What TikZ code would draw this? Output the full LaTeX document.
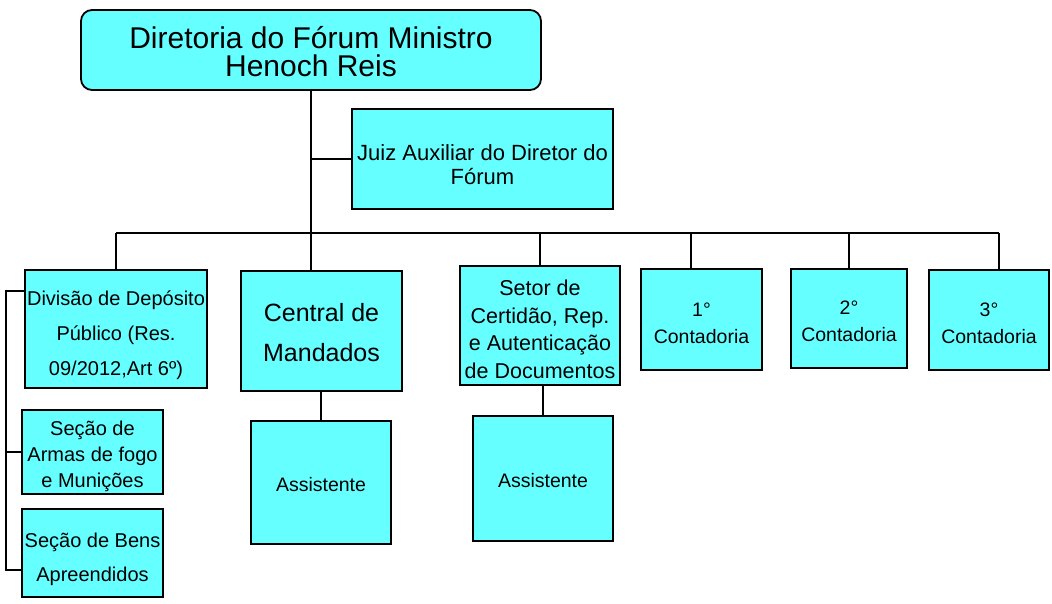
\documentclass[tikz,border=0pt]{standalone}
\usepackage{fontspec}
\setmainfont{Liberation Sans}
\definecolor{boxc}{HTML}{66FFFF}
\begin{document}
\begin{tikzpicture}[x=1pt,y=-1pt,
  box/.style={draw=black, line width=1.8pt, fill=boxc, inner sep=0pt},
  txt/.style={align=center, inner sep=0pt},
  conn/.style={draw=black, line width=1.8pt}]
\useasboundingbox (0,0) rectangle (1052,604);
% nodes
\node[box, rounded corners=11pt, minimum width=460pt, minimum height=80pt,
  label={[txt, font=\fontsize{30}{28}\selectfont, yshift=-2pt]center:{Diretoria do Fórum Ministro\\Henoch Reis}}] (top) at (311,50) {};
\node[box, minimum width=261pt, minimum height=100pt,
  label={[txt, font=\fontsize{22}{24}\selectfont, yshift=-6pt]center:{Juiz Auxiliar do Diretor do\\Fórum}}] (juiz) at (482.5,159) {};
\node[box, minimum width=182pt, minimum height=118pt,
  label={[txt, font=\fontsize{20}{35}\selectfont, yshift=-6pt]center:{Divisão de Depósito\\Público (Res.\\09/2012,Art 6º)}}] (div) at (116,329) {};
\node[box, minimum width=141pt, minimum height=84pt,
  label={[txt, font=\fontsize{20}{26}\selectfont, yshift=-4.5pt]center:{Seção de\\Armas de fogo\\e Munições}}] (armas) at (92.5,452) {};
\node[box, minimum width=141pt, minimum height=88pt,
  label={[txt, font=\fontsize{20}{34}\selectfont, yshift=-6.5pt]center:{Seção de Bens\\Apreendidos}}] (bens) at (92.5,553) {};
\node[box, minimum width=161pt, minimum height=120pt,
  label={[txt, font=\fontsize{25}{40}\selectfont, yshift=-1.5pt]center:{Central de\\Mandados}}] (central) at (321.5,331) {};
\node[box, minimum width=140pt, minimum height=123pt,
  label={[txt, font=\fontsize{19.5}{24}\selectfont, yshift=-2pt]center:{Assistente}}] (asc) at (321,482.5) {};
\node[box, minimum width=160pt, minimum height=119pt,
  label={[txt, font=\fontsize{21.5}{27.5}\selectfont, yshift=-4pt]center:{Setor de\\Certidão, Rep.\\e Autenticação\\de Documentos}}] (setor) at (540,325.5) {};
\node[box, minimum width=140pt, minimum height=125pt,
  label={[txt, font=\fontsize{19.5}{24}\selectfont, yshift=-2pt]center:{Assistente}}] (ass) at (543,478.5) {};
\node[box, minimum width=121pt, minimum height=101pt,
  label={[txt, font=\fontsize{19.5}{27}\selectfont, yshift=-4pt]center:{1°\\Contadoria}}] (c1) at (701.5,319.5) {};
\node[box, minimum width=116pt, minimum height=99pt,
  label={[txt, font=\fontsize{19.5}{27}\selectfont, yshift=-3pt]center:{2°\\Contadoria}}] (c2) at (849,318.5) {};
\node[box, minimum width=120pt, minimum height=100pt,
  label={[txt, font=\fontsize{19.5}{27}\selectfont, yshift=-3pt]center:{3°\\Contadoria}}] (c3) at (989,320) {};
% helper coordinates
\coordinate (busL) at (116,233);
\coordinate (busR) at (999,233);
\coordinate (c1x) at (691,0);
\coordinate (brk) at (6,0);
\coordinate (divy) at (0,291);
\coordinate (bensy) at (0,570);
% connectors
\draw[conn] (top.south) -- (top.south |- central.north);
\draw[conn] (juiz.west) -- (juiz.west -| top.south);
\draw[conn] (busL) -- (busR);
\draw[conn] (div.north) -- (div.north |- busL);
\draw[conn] (setor.north) -- (setor.north |- busL);
\draw[conn] (c1.north -| c1x) -- (c1x |- busL);
\draw[conn] (c2.north) -- (c2.north |- busL);
\draw[conn] (c3.north -| busR) -- (busR);
\draw[conn] (central.south) -- (central.south -| asc.north) -- (asc.north);
\draw[conn] (ass.north) -- (ass.north |- setor.south);
\draw[conn] (div.west |- divy) -| (brk |- bensy) -- (bens.west |- bensy);
\draw[conn] (armas.west) -- (armas.west -| brk);
\end{tikzpicture}
\end{document}
